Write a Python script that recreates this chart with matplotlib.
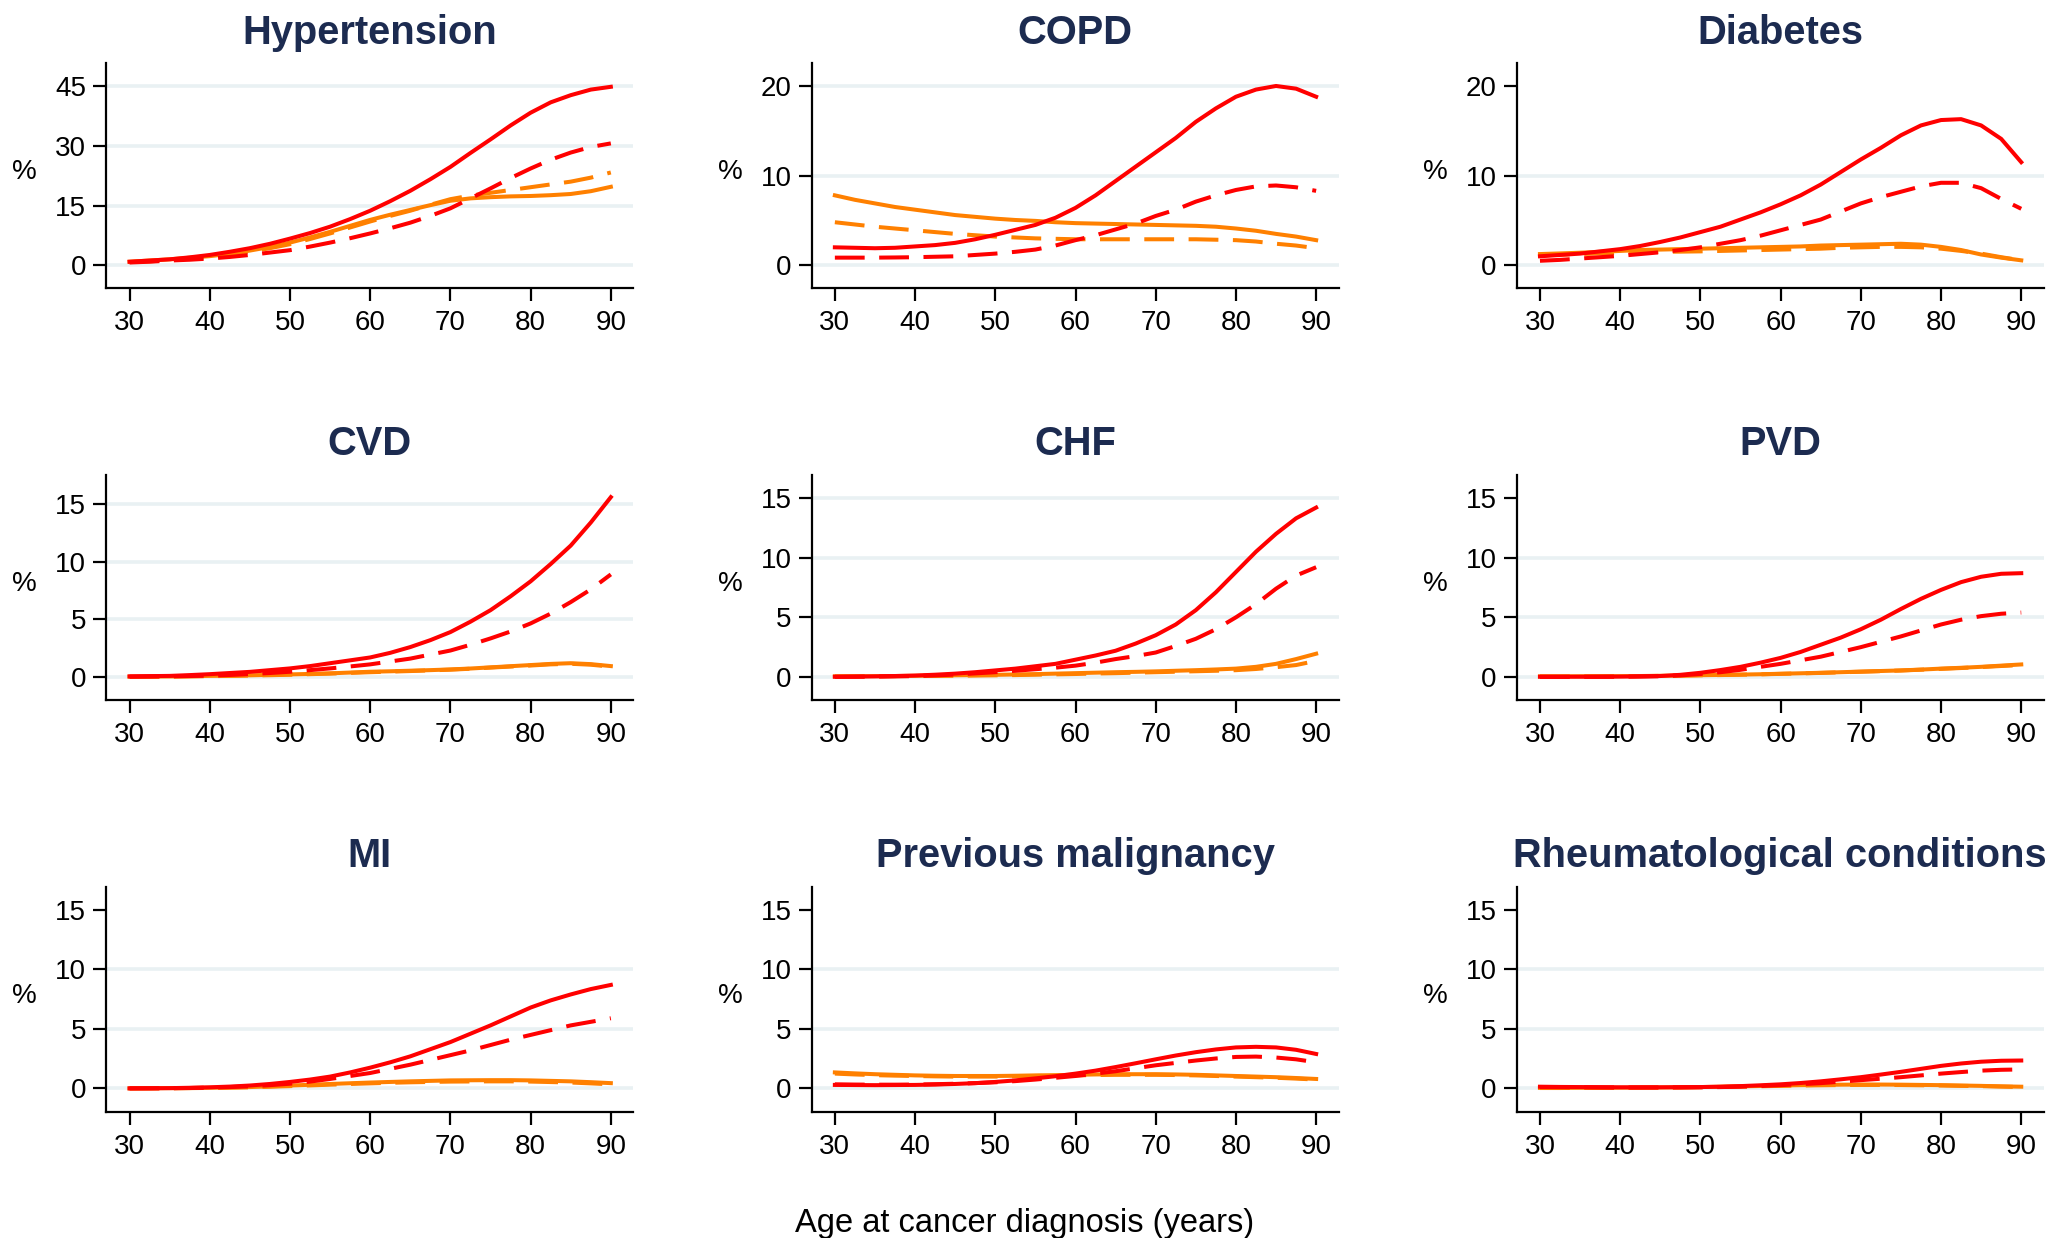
import matplotlib
matplotlib.use('Agg')
import matplotlib.pyplot as plt

# ---------------- data ----------------
ages = [30, 32.5, 35, 37.5, 40, 42.5, 45, 47.5, 50, 52.5, 55, 57.5, 60,
        62.5, 65, 67.5, 70, 72.5, 75, 77.5, 80, 82.5, 85, 87.5, 90]

titles = ["Hypertension", "COPD", "Diabetes",
          "CVD", "CHF", "PVD",
          "MI", "Previous malignancy", "Rheumatological conditions"]

# Hypertension
hyp_red_solid = [0.9, 1.2, 1.5, 2.0, 2.6, 3.4, 4.3, 5.4, 6.7, 8.1, 9.7, 11.6, 13.7,
                 16.1, 18.7, 21.6, 24.7, 28.2, 31.6, 35.1, 38.3, 40.9, 42.7, 44.1, 44.8]
hyp_red_dash = [0.7, 0.9, 1.2, 1.4, 1.7, 2.1, 2.6, 3.2, 3.8, 4.7, 5.7, 6.8, 8.0,
                9.3, 10.7, 12.4, 14.3, 16.8, 19.3, 21.9, 24.3, 26.5, 28.3, 29.7, 30.6]
hyp_org_solid = [0.9, 1.2, 1.5, 1.9, 2.3, 2.9, 3.7, 4.6, 5.7, 7.0, 8.4, 9.9, 11.4,
                 12.7, 13.9, 15.1, 16.2, 16.8, 17.1, 17.3, 17.4, 17.6, 17.9, 18.6, 19.7]
hyp_org_dash = [0.8, 1.0, 1.3, 1.7, 2.1, 2.7, 3.4, 4.3, 5.3, 6.6, 8.0, 9.5, 11.0,
                12.4, 13.7, 15.2, 16.6, 17.5, 18.2, 18.9, 19.6, 20.3, 21.0, 22.0, 23.3]
# COPD
copd_red_solid = [2.0, 1.95, 1.9, 1.95, 2.1, 2.25, 2.5, 2.9, 3.4, 3.95, 4.5, 5.3, 6.4,
                  7.8, 9.4, 11.0, 12.6, 14.2, 16.0, 17.5, 18.8, 19.6, 20.0, 19.7, 18.8]
copd_red_dash = [0.85, 0.85, 0.85, 0.87, 0.9, 0.95, 1.0, 1.15, 1.3, 1.5, 1.75, 2.2, 2.8,
                 3.35, 4.0, 4.65, 5.5, 6.2, 7.1, 7.8, 8.4, 8.8, 8.9, 8.7, 8.3]
copd_org_solid = [7.8, 7.3, 6.9, 6.5, 6.2, 5.9, 5.6, 5.4, 5.2, 5.05, 4.95, 4.8, 4.7,
                  4.65, 4.6, 4.55, 4.5, 4.45, 4.4, 4.3, 4.1, 3.85, 3.5, 3.2, 2.8]
copd_org_dash = [4.8, 4.55, 4.3, 4.1, 3.9, 3.7, 3.5, 3.35, 3.2, 3.1, 3.0, 2.95, 2.9,
                 2.9, 2.9, 2.9, 2.9, 2.9, 2.9, 2.85, 2.8, 2.65, 2.4, 2.2, 1.9]
# Diabetes
diab_red_solid = [1.0, 1.15, 1.3, 1.55, 1.8, 2.15, 2.6, 3.1, 3.7, 4.3, 5.1, 5.9, 6.8,
                  7.8, 9.0, 10.4, 11.8, 13.1, 14.5, 15.6, 16.2, 16.3, 15.6, 14.1, 11.5]
diab_red_dash = [0.5, 0.6, 0.75, 0.9, 1.05, 1.25, 1.45, 1.7, 2.0, 2.4, 2.8, 3.3, 3.9,
                 4.5, 5.1, 6.0, 6.9, 7.6, 8.2, 8.8, 9.2, 9.2, 8.6, 7.4, 6.3]
diab_org_solid = [1.25, 1.32, 1.4, 1.5, 1.6, 1.7, 1.75, 1.8, 1.85, 1.9, 1.95, 2.0, 2.05,
                  2.1, 2.2, 2.25, 2.3, 2.35, 2.4, 2.3, 2.05, 1.7, 1.2, 0.85, 0.55]
diab_org_dash = [1.1, 1.18, 1.25, 1.32, 1.4, 1.45, 1.5, 1.52, 1.55, 1.6, 1.65, 1.7, 1.75,
                 1.8, 1.85, 1.95, 2.0, 2.05, 2.05, 2.0, 1.85, 1.6, 1.3, 0.9, 0.55]
# CVD
cvd_red_solid = [0.06, 0.08, 0.1, 0.17, 0.25, 0.35, 0.45, 0.6, 0.75, 0.95, 1.2, 1.45, 1.7,
                 2.1, 2.6, 3.2, 3.9, 4.8, 5.8, 7.0, 8.3, 9.8, 11.4, 13.4, 15.6]
cvd_red_dash = [0.03, 0.04, 0.06, 0.09, 0.12, 0.18, 0.26, 0.35, 0.46, 0.6, 0.75, 0.92, 1.1,
                1.35, 1.6, 1.95, 2.3, 2.8, 3.35, 3.95, 4.65, 5.5, 6.5, 7.6, 8.9]
cvd_org_solid = [0.03, 0.04, 0.05, 0.07, 0.1, 0.12, 0.15, 0.19, 0.23, 0.27, 0.32, 0.39, 0.46,
                 0.5, 0.55, 0.6, 0.66, 0.74, 0.84, 0.94, 1.04, 1.14, 1.2, 1.12, 0.95]
cvd_org_dash = [0.02, 0.03, 0.04, 0.06, 0.08, 0.1, 0.13, 0.16, 0.2, 0.25, 0.3, 0.36, 0.42,
                0.47, 0.52, 0.58, 0.64, 0.72, 0.82, 0.91, 1.0, 1.1, 1.15, 1.07, 0.9]
# CHF
chf_red_solid = [0.02, 0.03, 0.05, 0.08, 0.12, 0.19, 0.28, 0.4, 0.55, 0.7, 0.9, 1.1, 1.45,
                 1.8, 2.2, 2.8, 3.5, 4.4, 5.6, 7.1, 8.8, 10.5, 12.0, 13.3, 14.2]
chf_red_dash = [0.01, 0.02, 0.03, 0.05, 0.08, 0.13, 0.2, 0.3, 0.4, 0.52, 0.65, 0.78, 0.95,
                1.2, 1.5, 1.75, 2.05, 2.6, 3.2, 4.0, 5.0, 6.1, 7.4, 8.5, 9.2]
chf_org_solid = [0.05, 0.06, 0.07, 0.08, 0.1, 0.12, 0.14, 0.16, 0.18, 0.21, 0.24, 0.28, 0.32,
                 0.36, 0.4, 0.43, 0.47, 0.52, 0.57, 0.63, 0.7, 0.85, 1.1, 1.5, 1.95]
chf_org_dash = [0.04, 0.05, 0.06, 0.07, 0.08, 0.09, 0.1, 0.12, 0.14, 0.16, 0.19, 0.22, 0.25,
                0.29, 0.32, 0.36, 0.4, 0.44, 0.48, 0.52, 0.57, 0.67, 0.82, 1.0, 1.35]
# PVD
pvd_red_solid = [0.02, 0.02, 0.02, 0.02, 0.03, 0.05, 0.08, 0.18, 0.35, 0.58, 0.85, 1.2, 1.6,
                 2.1, 2.7, 3.3, 4.0, 4.8, 5.7, 6.55, 7.3, 7.95, 8.4, 8.65, 8.7]
pvd_red_dash = [0.01, 0.01, 0.01, 0.02, 0.02, 0.04, 0.06, 0.13, 0.25, 0.4, 0.6, 0.85, 1.1,
                1.4, 1.7, 2.1, 2.5, 2.95, 3.4, 3.9, 4.4, 4.8, 5.1, 5.3, 5.4]
pvd_org_solid = [0.05, 0.05, 0.06, 0.06, 0.07, 0.08, 0.1, 0.12, 0.15, 0.17, 0.2, 0.23, 0.27,
                 0.31, 0.35, 0.4, 0.45, 0.5, 0.55, 0.62, 0.7, 0.77, 0.85, 0.95, 1.05]
pvd_org_dash = [0.04, 0.04, 0.05, 0.05, 0.06, 0.07, 0.09, 0.11, 0.14, 0.16, 0.19, 0.22, 0.26,
                0.3, 0.34, 0.39, 0.44, 0.49, 0.54, 0.61, 0.68, 0.75, 0.83, 0.92, 1.0]
# MI
mi_red_solid = [0.01, 0.02, 0.03, 0.06, 0.1, 0.16, 0.25, 0.38, 0.55, 0.75, 1.0, 1.35, 1.75,
                2.2, 2.7, 3.3, 3.9, 4.6, 5.3, 6.05, 6.8, 7.4, 7.9, 8.35, 8.7]
mi_red_dash = [0.01, 0.01, 0.02, 0.04, 0.07, 0.12, 0.18, 0.28, 0.4, 0.58, 0.8, 1.05, 1.3,
               1.65, 2.0, 2.4, 2.8, 3.2, 3.65, 4.1, 4.5, 4.9, 5.3, 5.6, 5.9]
mi_org_solid = [0.01, 0.02, 0.03, 0.04, 0.06, 0.09, 0.12, 0.18, 0.25, 0.31, 0.38, 0.44, 0.5,
                0.55, 0.6, 0.64, 0.68, 0.69, 0.7, 0.7, 0.68, 0.64, 0.6, 0.53, 0.45]
mi_org_dash = [0.01, 0.01, 0.02, 0.03, 0.05, 0.07, 0.1, 0.15, 0.2, 0.26, 0.32, 0.38, 0.43,
               0.48, 0.52, 0.55, 0.58, 0.59, 0.6, 0.6, 0.58, 0.54, 0.5, 0.43, 0.35]
# Previous malignancy
prev_red_solid = [0.3, 0.29, 0.28, 0.29, 0.3, 0.33, 0.38, 0.45, 0.55, 0.68, 0.85, 1.03, 1.25,
                  1.5, 1.8, 2.12, 2.45, 2.77, 3.05, 3.28, 3.45, 3.5, 3.45, 3.25, 2.9]
prev_red_dash = [0.35, 0.33, 0.32, 0.32, 0.33, 0.36, 0.4, 0.45, 0.52, 0.62, 0.75, 0.9, 1.05,
                 1.25, 1.45, 1.7, 1.95, 2.15, 2.35, 2.52, 2.65, 2.68, 2.6, 2.45, 2.2]
prev_org_solid = [1.35, 1.27, 1.2, 1.15, 1.1, 1.07, 1.05, 1.05, 1.05, 1.07, 1.1, 1.12, 1.15,
                  1.18, 1.2, 1.2, 1.2, 1.18, 1.15, 1.1, 1.05, 1.0, 0.95, 0.88, 0.8]
prev_org_dash = [1.25, 1.18, 1.12, 1.08, 1.05, 1.02, 1.0, 1.0, 1.0, 1.02, 1.05, 1.07, 1.1,
                 1.13, 1.15, 1.15, 1.15, 1.13, 1.1, 1.05, 1.0, 0.95, 0.9, 0.83, 0.75]
# Rheumatological conditions
rheum_red_solid = [0.15, 0.13, 0.12, 0.11, 0.1, 0.1, 0.1, 0.11, 0.12, 0.15, 0.2, 0.27, 0.35,
                   0.46, 0.6, 0.77, 0.95, 1.17, 1.4, 1.65, 1.9, 2.1, 2.25, 2.33, 2.35]
rheum_red_dash = [0.12, 0.11, 0.1, 0.09, 0.08, 0.08, 0.08, 0.09, 0.1, 0.12, 0.15, 0.21, 0.28,
                  0.36, 0.45, 0.57, 0.7, 0.82, 0.95, 1.1, 1.25, 1.38, 1.5, 1.57, 1.6]
rheum_org_solid = [0.05, 0.05, 0.06, 0.06, 0.07, 0.08, 0.09, 0.1, 0.12, 0.15, 0.18, 0.21, 0.25,
                   0.28, 0.3, 0.32, 0.33, 0.33, 0.32, 0.3, 0.28, 0.25, 0.22, 0.18, 0.15]
rheum_org_dash = [0.04, 0.04, 0.05, 0.05, 0.06, 0.07, 0.08, 0.09, 0.11, 0.13, 0.16, 0.19, 0.22,
                  0.25, 0.27, 0.29, 0.3, 0.3, 0.29, 0.27, 0.25, 0.22, 0.2, 0.16, 0.12]

x_ticks = [30, 40, 50, 60, 70, 80, 90]
y_ticks = [[0, 15, 30, 45], [0, 10, 20], [0, 10, 20],
           [0, 5, 10, 15], [0, 5, 10, 15], [0, 5, 10, 15],
           [0, 5, 10, 15], [0, 5, 10, 15], [0, 5, 10, 15]]
grid_levels = [[0, 15, 30, 45], [0, 10, 20], [0, 10],
               [0, 5, 10, 15], [0, 5, 10, 15], [0, 5, 10],
               [0, 5, 10], [0, 5, 10], [0, 5, 10]]
x_label = "Age at cancer diagnosis (years)"

panels = [
    (hyp_red_solid, hyp_red_dash, hyp_org_solid, hyp_org_dash),
    (copd_red_solid, copd_red_dash, copd_org_solid, copd_org_dash),
    (diab_red_solid, diab_red_dash, diab_org_solid, diab_org_dash),
    (cvd_red_solid, cvd_red_dash, cvd_org_solid, cvd_org_dash),
    (chf_red_solid, chf_red_dash, chf_org_solid, chf_org_dash),
    (pvd_red_solid, pvd_red_dash, pvd_org_solid, pvd_org_dash),
    (mi_red_solid, mi_red_dash, mi_org_solid, mi_org_dash),
    (prev_red_solid, prev_red_dash, prev_org_solid, prev_org_dash),
    (rheum_red_solid, rheum_red_dash, rheum_org_solid, rheum_org_dash),
]

ylims = [(-5.77, 50.7), (-2.57, 22.53), (-2.57, 22.53),
         (-1.99, 17.52), (-1.93, 16.93), (-1.93, 16.93),
         (-2.0, 16.9), (-2.0, 16.9), (-2.0, 16.9)]

# ---------------- style ----------------
plt.rcParams['font.family'] = ['Liberation Sans', 'DejaVu Sans']
RED = '#ff0000'
ORANGE = '#ff8000'
TITLE_C = '#1c2b50'
GRID_C = '#e9f1f3'

W, H = 2049, 1238
fig = plt.figure(figsize=(W / 100, H / 100), dpi=100)

col_left = [106.3, 811.6, 1516.7]
row_top = [63.3, 475.0, 887.3]
aw, ah = 527.0, 225.0
title_base = [44.0, 455.0, 867.0]

lw = 2.9
dash = (7.4, 3.6)

for i, (rs, rd, os_, od) in enumerate(panels):
    r, c = divmod(i, 3)
    l = col_left[c]
    t = row_top[r]
    ax = fig.add_axes([l / W, 1 - (t + ah) / H, aw / W, ah / H])
    ax.set_facecolor('white')
    for g in grid_levels[i]:
        ax.axhline(g, color=GRID_C, lw=2.6, zorder=0)
    ax.plot(ages, od, color=ORANGE, lw=lw, dashes=dash, zorder=2)
    ax.plot(ages, os_, color=ORANGE, lw=lw, zorder=2)
    ax.plot(ages, rd, color=RED, lw=lw, dashes=dash, zorder=3)
    ax.plot(ages, rs, color=RED, lw=lw, zorder=3)
    ax.set_xlim(27.1, 92.8)
    ax.set_ylim(*ylims[i])
    ax.set_xticks(x_ticks)
    ax.set_yticks(y_ticks[i])
    ax.spines['top'].set_visible(False)
    ax.spines['right'].set_visible(False)
    for s in ('left', 'bottom'):
        ax.spines[s].set_linewidth(1.6)
        ax.spines[s].set_color('black')
    ax.tick_params(axis='both', direction='out', length=9.5, width=1.6,
                   labelsize=20, colors='black')
    ax.tick_params(axis='y', pad=5)
    ax.tick_params(axis='x', pad=6)
    ax.set_ylabel('%', rotation=0, fontsize=20, va='center', ha='center')
    ax.yaxis.set_label_coords(-0.155, 0.515)
    fig.text((l + aw / 2) / W, 1 - title_base[r] / H, titles[i],
             ha='center', va='baseline', fontsize=28.7, fontweight='bold',
             color=TITLE_C)

fig.text(1024.5 / W, 1 - 1232 / H, x_label, ha='center', va='baseline',
         fontsize=23.5)

fig.savefig('out.png', dpi=100, facecolor='white')
